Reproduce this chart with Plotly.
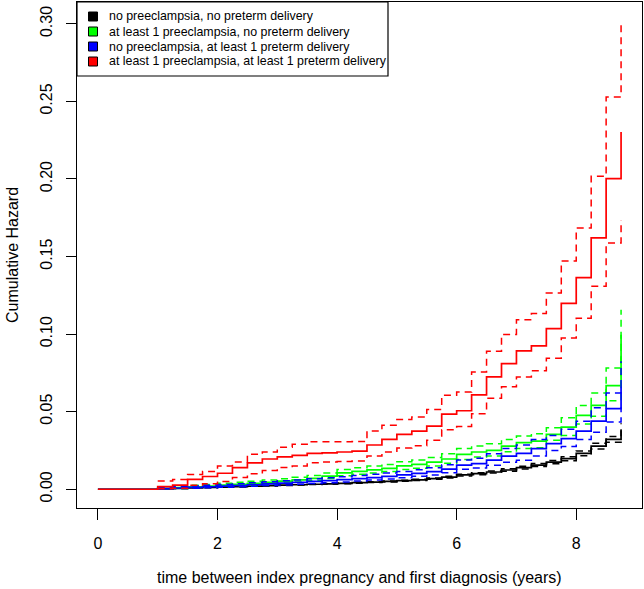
import plotly.graph_objects as go

# ---- data ----
times = [1.0, 1.25, 1.5, 1.75, 2.0, 2.25, 2.5, 2.75, 3.0, 3.25, 3.5, 3.75,
         4.0, 4.25, 4.5, 4.75, 5.0, 5.25, 5.5, 5.75, 6.0, 6.25, 6.5, 6.75,
         7.0, 7.25, 7.5, 7.75, 8.0, 8.25, 8.5, 8.75]

labels = ["no preeclampsia, no preterm delivery",
          "at least 1 preeclampsia, no preterm delivery",
          "no preeclampsia, at least 1 preterm delivery",
          "at least 1 preeclampsia, at least 1 preterm delivery"]
colors = ["#000000", "#00FF00", "#0000FF", "#FF0000"]

black_est = [0.0002, 0.0005, 0.0008, 0.0011, 0.0014, 0.0017, 0.0020, 0.0023, 0.0026, 0.0029, 0.0032, 0.0035,
             0.0038, 0.0042, 0.0046, 0.0050, 0.0055, 0.0060, 0.0068, 0.0078, 0.0092, 0.0101, 0.0111, 0.0124,
             0.0139, 0.0156, 0.0175, 0.0197, 0.0231, 0.0278, 0.0321, 0.0380]
black_up = [0.0003, 0.0006, 0.0009, 0.0012, 0.0015, 0.0018, 0.0022, 0.0025, 0.0028, 0.0031, 0.0034, 0.0037,
            0.0040, 0.0045, 0.0049, 0.0053, 0.0058, 0.0064, 0.0072, 0.0083, 0.0097, 0.0107, 0.0118, 0.0132,
            0.0148, 0.0166, 0.0186, 0.0210, 0.0246, 0.0296, 0.0340, 0.0425]
black_lo = [0.0001, 0.0004, 0.0007, 0.0010, 0.0013, 0.0016, 0.0019, 0.0021, 0.0024, 0.0027, 0.0030, 0.0033,
            0.0036, 0.0039, 0.0043, 0.0047, 0.0052, 0.0056, 0.0064, 0.0073, 0.0085, 0.0094, 0.0104, 0.0116,
            0.0130, 0.0146, 0.0164, 0.0184, 0.0216, 0.0260, 0.0303, 0.0340]

green_est = [0.0005, 0.0010, 0.0015, 0.0020, 0.0026, 0.0032, 0.0038, 0.0044, 0.0052, 0.0060, 0.0070, 0.0085,
             0.0105, 0.0115, 0.0125, 0.0135, 0.0150, 0.0160, 0.0175, 0.0195, 0.0225, 0.0240, 0.0251, 0.0278,
             0.0300, 0.0310, 0.0353, 0.0400, 0.0476, 0.0540, 0.0668, 0.0996]
green_up = [0.0012, 0.0018, 0.0025, 0.0031, 0.0038, 0.0045, 0.0052, 0.0059, 0.0068, 0.0077, 0.0088, 0.0105,
            0.0127, 0.0138, 0.0149, 0.0160, 0.0177, 0.0188, 0.0205, 0.0228, 0.0263, 0.0278, 0.0294, 0.0321,
            0.0343, 0.0358, 0.0396, 0.0461, 0.0540, 0.0621, 0.0782, 0.1157]
green_lo = [0.0002, 0.0005, 0.0009, 0.0013, 0.0018, 0.0023, 0.0028, 0.0033, 0.0040, 0.0047, 0.0056, 0.0069,
            0.0087, 0.0096, 0.0105, 0.0114, 0.0127, 0.0136, 0.0149, 0.0167, 0.0192, 0.0207, 0.0214, 0.0241,
            0.0262, 0.0268, 0.0315, 0.0347, 0.0420, 0.0470, 0.0571, 0.0857]

blue_est = [0.0004, 0.0008, 0.0012, 0.0016, 0.0020, 0.0024, 0.0029, 0.0034, 0.0039, 0.0044, 0.0050, 0.0056,
            0.0062, 0.0068, 0.0075, 0.0083, 0.0092, 0.0102, 0.0113, 0.0130, 0.0156, 0.0165, 0.0188, 0.0214,
            0.0231, 0.0262, 0.0294, 0.0326, 0.0375, 0.0439, 0.0519, 0.0660]
blue_up = [0.0010, 0.0016, 0.0021, 0.0026, 0.0031, 0.0036, 0.0042, 0.0048, 0.0054, 0.0060, 0.0067, 0.0074,
           0.0081, 0.0088, 0.0096, 0.0105, 0.0115, 0.0126, 0.0139, 0.0158, 0.0188, 0.0199, 0.0228, 0.0263,
           0.0285, 0.0321, 0.0347, 0.0386, 0.0439, 0.0525, 0.0621, 0.0825]
blue_lo = [0.0002, 0.0004, 0.0007, 0.0010, 0.0013, 0.0016, 0.0020, 0.0024, 0.0028, 0.0032, 0.0037, 0.0042,
           0.0047, 0.0053, 0.0059, 0.0066, 0.0074, 0.0083, 0.0092, 0.0107, 0.0129, 0.0137, 0.0155, 0.0174,
           0.0187, 0.0214, 0.0249, 0.0275, 0.0320, 0.0367, 0.0434, 0.0528]

red_est = [0.0017, 0.0026, 0.0064, 0.0082, 0.0103, 0.0139, 0.0170, 0.0195, 0.0208, 0.0218, 0.0231, 0.0235,
           0.0240, 0.0246, 0.0285, 0.0321, 0.0353, 0.0375, 0.0407, 0.0484, 0.0506, 0.0608, 0.0724, 0.0810,
           0.0892, 0.0924, 0.1036, 0.1198, 0.1364, 0.1620, 0.2003, 0.2303]
red_up = [0.0053, 0.0062, 0.0095, 0.0115, 0.0150, 0.0175, 0.0225, 0.0240, 0.0270, 0.0290, 0.0306, 0.0306,
          0.0306, 0.0308, 0.0375, 0.0413, 0.0450, 0.0465, 0.0514, 0.0606, 0.0627, 0.0755, 0.0890, 0.0998,
          0.1093, 0.1133, 0.1265, 0.1472, 0.1684, 0.2018, 0.2528, 0.3020]
red_lo = [0.0003, 0.0006, 0.0025, 0.0035, 0.0050, 0.0075, 0.0100, 0.0120, 0.0140, 0.0150, 0.0170, 0.0175,
          0.0178, 0.0182, 0.0215, 0.0240, 0.0265, 0.0280, 0.0315, 0.0383, 0.0405, 0.0487, 0.0586, 0.0660,
          0.0724, 0.0763, 0.0845, 0.0975, 0.1103, 0.1308, 0.1587, 0.1735]

x_ticks = [0, 2, 4, 6, 8]
y_ticks = [0.00, 0.05, 0.10, 0.15, 0.20, 0.25, 0.30]

groups = [(black_est, black_up, black_lo), (green_est, green_up, green_lo),
          (blue_est, blue_up, blue_lo), (red_est, red_up, red_lo)]

FONT = "Liberation Sans, Arial, Helvetica, sans-serif"
W, H = 644, 589
ML, MR, MT, MB = 77, 2, 2, 81
PW, PH = W - ML - MR, H - MT - MB


def px_x(p):
    return (p - ML) / PW


def px_y(p):
    return 1 - (p - MT) / PH


fig = go.Figure()

for (est, up, lo), col in zip(groups, colors):
    for ci in (up, lo):
        fig.add_trace(go.Scatter(x=times, y=ci, mode="lines", line_shape="hv",
                                 line=dict(color=col, width=1.5, dash="7px,5px"),
                                 showlegend=False, hoverinfo="skip"))
    fig.add_trace(go.Scatter(x=[0] + times, y=[0] + est, mode="lines", line_shape="hv",
                             line=dict(color=col, width=1.7), showlegend=False))

# legend drawn as box + swatches + real text (R-style legend)
shapes = [dict(type="rect", xref="paper", yref="paper", x0=px_x(77), x1=px_x(388),
               y0=px_y(76), y1=px_y(2), fillcolor="white",
               line=dict(color="black", width=1.2), layer="above")]
annotations = []
row_centers = [16.5, 31.5, 46.5, 61.5]
for lab, col, yc in zip(labels, colors, row_centers):
    shapes.append(dict(type="rect", xref="paper", yref="paper",
                       x0=px_x(88.5), x1=px_x(97.5), y0=px_y(yc + 4.5), y1=px_y(yc - 4.5),
                       fillcolor=col, line=dict(color="black", width=1), layer="above"))
    annotations.append(dict(text=lab, xref="paper", yref="paper", x=px_x(107), y=px_y(yc),
                            xanchor="left", yanchor="middle", showarrow=False,
                            font=dict(size=12.4, family=FONT, color="black")))

annotations += [
    dict(text="time between index pregnancy and first diagnosis (years)",
         xref="paper", yref="paper", x=0.5, y=px_y(577), xanchor="center",
         yanchor="middle", showarrow=False, font=dict(size=16)),
    dict(text="Cumulative Hazard", xref="paper", yref="paper",
         x=px_x(12), y=0.5, xanchor="center", yanchor="middle",
         textangle=-90, showarrow=False, font=dict(size=16)),
]

fig.update_layout(
    width=W, height=H,
    margin=dict(l=ML, r=MR, t=MT, b=MB),
    paper_bgcolor="white", plot_bgcolor="white",
    font=dict(family=FONT, size=16, color="black"),
    showlegend=False,
    xaxis=dict(range=[-0.35, 9.1], tickvals=x_ticks, ticks="outside", ticklen=11,
               tickwidth=1, tickcolor="black", showline=True, linecolor="black",
               linewidth=1, mirror=True, showgrid=False, zeroline=False,
               ticklabelstandoff=10, tickfont=dict(size=16)),
    yaxis=dict(range=[-0.0121, 0.3141], tickvals=y_ticks, tickformat=".2f",
               ticks="outside", ticklen=10, tickwidth=1, tickcolor="black",
               showline=True, linecolor="black", linewidth=1, mirror=True,
               showgrid=False, zeroline=False, tickangle=-90,
               ticklabelstandoff=8, tickfont=dict(size=16)),
    shapes=shapes,
    annotations=annotations,
)

fig.write_html("out.html", config={"displayModeBar": False},
               post_script="document.body.style.margin='0';")
